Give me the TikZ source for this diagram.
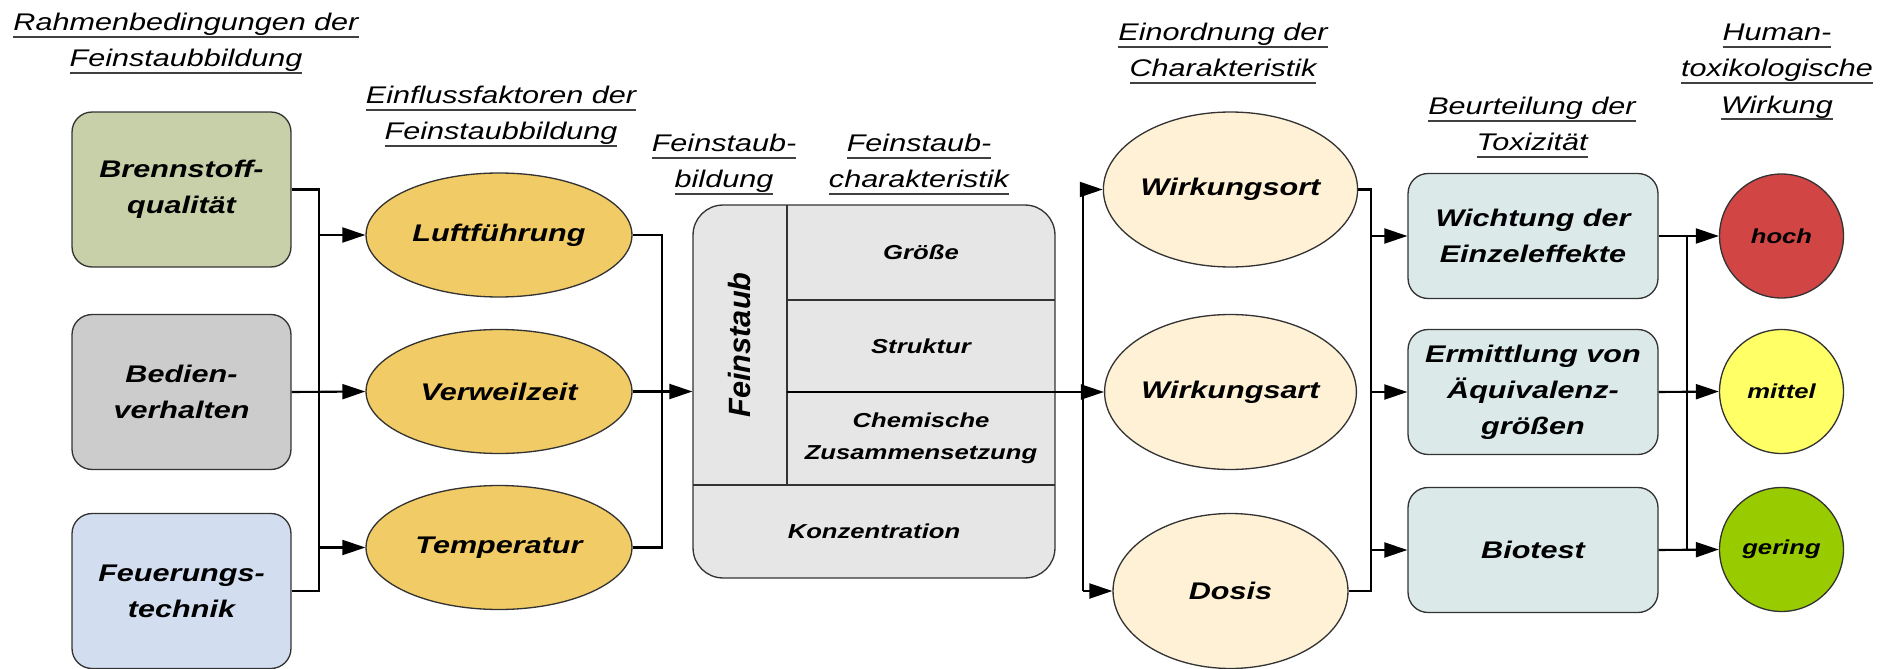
\documentclass[tikz,border=0pt]{standalone}
\usepackage{fontspec}
\setmainfont{Liberation Sans}[FakeStretch=1.27]
\newfontfamily\plainsans{Liberation Sans}
\usetikzlibrary{arrows.meta,shapes.geometric}

\definecolor{edge}{HTML}{333333}
\definecolor{brennc}{HTML}{C8D0A9}
\definecolor{bedienc}{HTML}{CCCCCC}
\definecolor{feuerc}{HTML}{D2DEEF}
\definecolor{faktc}{HTML}{F1CB65}
\definecolor{fsc}{HTML}{E6E6E6}
\definecolor{wirkc}{HTML}{FFF1D6}
\definecolor{toxc}{HTML}{DBE9E9}
\definecolor{hochc}{HTML}{D24545}
\definecolor{mittelc}{HTML}{FFFF66}
\definecolor{geringc}{HTML}{99CC00}

% underlined header line
\newcommand{\ulin}[1]{\setbox0=\hbox{#1}\rlap{\color{black!75}\rule[-4pt]{\wd0}{0.9pt}}\box0}

\begin{document}
\begin{tikzpicture}[x=0.02cm, y=-0.02cm,
    head/.style={align=center, anchor=base, inner sep=0pt, font=\fontsize{13.7}{20.5}\selectfont\itshape},
    lbl/.style={align=center, font=\fontsize{13.7}{20.5}\selectfont\bfseries\itshape},
    small/.style={align=center, font=\fontsize{11.5}{18}\selectfont\bfseries\itshape},
    rbox/.style={lbl, draw=edge, line width=0.75pt, rounded corners=0.4cm, inner sep=2pt},
    inbox/.style={rbox, minimum width=4.38cm, minimum height=3.1cm},
    ell/.style={lbl, ellipse, draw=edge, line width=0.75pt, inner sep=0pt},
    dot/.style={small, circle, draw=edge, line width=0.75pt, inner sep=0pt, minimum size=2.48cm},
    conn/.style={line width=1.2pt},
    arr/.style={conn, -{Triangle[length=0.46cm,width=0.3cm]}}]
    \useasboundingbox (0,0) rectangle (1894,669);

    % Headers (base = last line)
    \node[head] (rahmen) at (186,67) {\ulin{Rahmenbedingungen der}\\\ulin{Feinstaubbildung}};
    \node[head] (einfluss) at (501,140) {\ulin{Einflussfaktoren der}\\\ulin{Feinstaubbildung}};
    \node[head] (fsbild) at (724,188) {\ulin{Feinstaub-}\\\ulin{bildung}};
    \node[head] (fschar) at (919,188) {\ulin{Feinstaub-}\\\ulin{charakteristik}};
    \node[head] (einord) at (1223,77) {\ulin{Einordnung der}\\\ulin{Charakteristik}};
    \node[head] (beurt) at (1532,151) {\ulin{Beurteilung der}\\\ulin{Toxizität}};
    \node[head] (human) at (1777,113) {\ulin{Human-}\\\ulin{toxikologische}\\\ulin{Wirkung}};

    % Rahmenbedingungen
    \node[inbox, fill=brennc] (brenn) at (181.5,189.5) {Brennstoff-\\qualität};
    \node[inbox, fill=bedienc] (bedien) at (181.5,392) {Bedien-\\verhalten};
    \node[inbox, fill=feuerc] (feuer) at (181.5,591) {Feuerungs-\\technik};

    % Einflussfaktoren
    \node[ell, fill=faktc, minimum width=5.32cm, minimum height=2.48cm] (luft) at (499,235) {Luftführung};
    \node[ell, fill=faktc, minimum width=5.32cm, minimum height=2.48cm] (verw) at (499,391.5) {Verweilzeit};
    \node[ell, fill=faktc, minimum width=5.32cm, minimum height=2.48cm] (temp) at (499,547.5) {Temperatur};

    % Feinstaub box
    \node[draw=edge, fill=fsc, line width=0.75pt, rounded corners=0.6cm,
          minimum width=7.24cm, minimum height=7.46cm] (fs) at (874,391.5) {};
    \draw[edge, line width=0.75pt] (787,205) -- (787,485);
    \draw[edge, line width=0.75pt] (787,300) -- (1055,300);
    \draw[edge, line width=0.75pt] (693,485) -- (1055,485);
    \coordinate (split) at (787,392);
    \node[rotate=90, font=\plainsans\fontsize{17.5}{20}\selectfont\bfseries\itshape] (feinstaub) at (740,345) {Feinstaub};
    \node[small] (groesse) at (921,252.5) {Größe};
    \node[small] (struktur) at (921,346) {Struktur};
    \node[small] (chemie) at (921,438.5) {Chemische\\Zusammensetzung};
    \node[small] (konz) at (874,531.5) {Konzentration};

    % Einordnung
    \node[ell, fill=wirkc, minimum width=4.7cm, minimum height=3.1cm] (wort) at (1230.5,189.5) {Wirkungsort};
    \node[ell, fill=wirkc, minimum width=4.7cm, minimum height=3.1cm] (wart) at (1230.5,392) {Wirkungsart};
    \node[ell, fill=wirkc, minimum width=4.7cm, minimum height=3.1cm] (dosis) at (1230.5,591) {Dosis};

    % Beurteilung
    \node[rbox, fill=toxc, minimum width=5cm, minimum height=2.5cm] (wicht) at (1533,236) {Wichtung der\\Einzeleffekte};
    \node[rbox, fill=toxc, minimum width=5cm, minimum height=2.5cm] (ermit) at (1533,392) {Ermittlung von\\Äquivalenz-\\größen};
    \node[rbox, fill=toxc, minimum width=5cm, minimum height=2.5cm] (bio) at (1533,550) {Biotest};

    % Wirkung
    \node[dot, fill=hochc] (hoch) at (1781.5,236) {hoch};
    \node[dot, fill=mittelc] (mittel) at (1781.5,391.5) {mittel};
    \node[dot, fill=geringc] (gering) at (1781.5,549.5) {gering};

    % Connectors
    \coordinate (busA) at (319,0);
    \draw[conn] (brenn.east) -- (busA |- brenn.east) -- (busA |- feuer.east) -- (feuer.east);
    \draw[arr] (busA |- luft.west) -- (luft.west);
    \draw[arr] (bedien.east) -- (verw.west);
    \draw[arr] (busA |- temp.west) -- (temp.west);

    \coordinate (busB) at (662,0);
    \draw[conn] (luft.east) -- (busB |- luft.east) -- (busB |- temp.east) -- (temp.east);
    \draw[arr] (verw.east) -- (fs.west);

    \coordinate (busC) at (1083,0);
    \draw[conn] (busC |- wort.west) -- (busC |- dosis.west);
    \draw[arr] (busC |- wort.west) -- (wort.west);
    \draw[arr] (split) -- (wart.west);
    \draw[arr] (busC |- dosis.west) -- (dosis.west);

    \coordinate (busD) at (1371,0);
    \draw[conn] (wort.east) -- (busD |- wort.east) -- (busD |- dosis.east) -- (dosis.east);
    \draw[arr] (busD |- wicht.west) -- (wicht.west);
    \draw[arr] (busD |- ermit.west) -- (ermit.west);
    \draw[arr] (busD |- bio.west) -- (bio.west);

    \coordinate (busE) at (1687,0);
    \draw[conn] (wicht.east) -- (busE |- wicht.east) -- (busE |- bio.east);
    \draw[arr] (busE |- hoch.west) -- (hoch.west);
    \draw[arr] (ermit.east) -- (mittel.west);
    \draw[arr] (bio.east) -- (gering.west);
\end{tikzpicture}
\end{document}
